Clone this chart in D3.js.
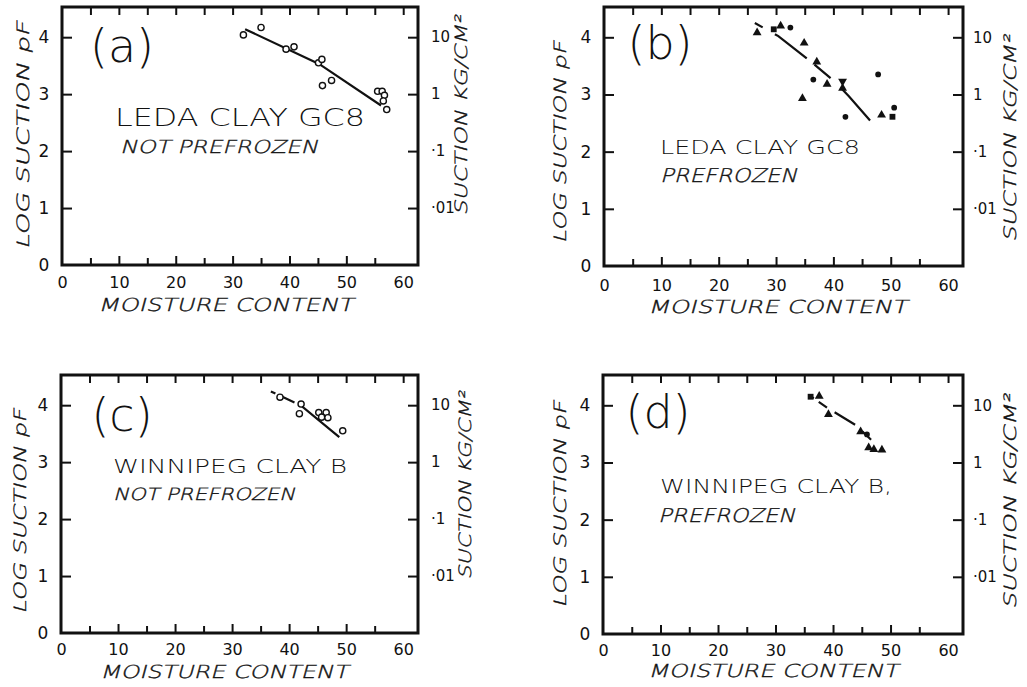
<!DOCTYPE html>
<html><head><meta charset="utf-8">
<script src="https://cdn.jsdelivr.net/npm/d3@7"></script>
<style>body{margin:0;background:#fff}svg text{fill:#111}</style>
</head><body><svg id="c" width="1027" height="687"></svg>
<script>
// ---- tick values / labels ----
const xTickValues = [0, 10, 20, 30, 40, 50, 60];
const xMinorValues = [5, 15, 25, 35, 45, 55];
const yTickValues = [0, 1, 2, 3, 4];
const rightTickValues = [4, 3, 2, 1];
const rightTickLabels = ["10", "1", "·1", "·01"];

// ---- panel (a) Leda clay GC8, not prefrozen ----
const aCircles = [[31.9,4.04],[35.0,4.17],[39.4,3.79],[40.8,3.83],[45.1,3.55],[45.7,3.61],
  [45.8,3.15],[47.4,3.24],[55.5,3.05],[56.3,3.05],[56.7,2.98],[56.5,2.88],[57.1,2.73]];
const aLine = [[32.2,4.14],[45.2,3.53],[56.1,2.80]];

// ---- panel (b) Leda clay GC8, prefrozen ----
const bCircles = [[32.5,4.17],[36.5,3.26],[47.8,3.35],[42.1,2.61],[50.6,2.77]];
const bTriangles = [[26.7,4.08],[30.8,4.20],[34.9,3.90],[37.1,3.57],[38.9,3.18],[34.6,2.93],[41.6,3.11],[48.4,2.64]];
const bSquares = [[29.6,4.14],[50.3,2.61]];
const bDownTriangles = [[41.6,3.23]];
const bLine = [[26.3,4.25],[30.4,4.02],[36.0,3.58],[40.4,3.21],[42.7,2.97],[47.2,2.45]];

// ---- panel (c) Winnipeg clay B, not prefrozen ----
const cCircles = [[38.4,4.14],[42.1,4.02],[41.8,3.85],[45.2,3.87],[46.5,3.87],[45.7,3.79],[46.8,3.78],[49.4,3.55]];
const cLine = [[36.8,4.24],[42.0,4.00],[48.8,3.44]];

// ---- panel (d) Winnipeg clay B, prefrozen ----
const dSquares = [[36.1,4.15]];
const dTriangles = [[37.6,4.16],[39.2,3.84],[44.8,3.54],[46.2,3.26],[47.1,3.23],[48.5,3.22]];
const dCircles = [[45.9,3.49]];
const dLine = [[35.8,4.18],[39.1,3.95],[44.0,3.65],[47.2,3.34]];

const FONT = "'DejaVu Sans', sans-serif";
const svg = d3.select("#c");

const panels = [
  {id:"a", L:62, R:418, T:7, B:265, letter:"(a)", lc:[122,46],
   title:"LEDA CLAY GC8", t1:[115,126,250,25], sub:"NOT PREFROZEN", t2:[120,153,198,18],
   ylab:[23,134,228], rlab:[461,114,200], rtx:13, xlabY:288, xt:[98,311,255],
   marks:[{data:aCircles,type:"ocircle"}], line:aLine, dash:null},
  {id:"b", L:604, R:963, T:7, B:266, letter:"(b)", lc:[660,43],
   title:"LEDA CLAY GC8", t1:[660,154,200,19], sub:"PREFROZEN", t2:[660,182,137,19],
   ylab:[560,141,202], rlab:[1010,137,207], rtx:10, xlabY:291, xt:[648,313,259],
   marks:[{data:bCircles,type:"circle"},{data:bTriangles,type:"tri"},{data:bSquares,type:"square"},{data:bDownTriangles,type:"dtri"}],
   line:bLine, dash:"9,14,40,10,21,16,42"},
  {id:"c", L:61, R:418, T:375, B:633, letter:"(c)", lc:[122,415],
   title:"WINNIPEG CLAY B", t1:[113,473,234,20], sub:"NOT PREFROZEN", t2:[113,500,182,17],
   ylab:[20,510,205], rlab:[465,484,188], rtx:13, xlabY:655, xt:[100,678,248],
   marks:[{data:cCircles,type:"ocircle"}], line:cLine, dash:"5,7,14,6,70"},
  {id:"d", L:603, R:963, T:375, B:634, letter:"(d)", lc:[658,412],
   title:"WINNIPEG CLAY B,", t1:[660,493,232,20], sub:"PREFROZEN", t2:[658,522,137,19],
   ylab:[560,503,207], rlab:[1010,500,215], rtx:10, xlabY:656, xt:[648,677,250],
   marks:[{data:dSquares,type:"square"},{data:dTriangles,type:"tri"},{data:dCircles,type:"circle"}],
   line:dLine, dash:"6,6,10,9,24,10,12"}
];

// hand-lettered italic: thin upright glyphs sheared
function slanted(g, transform, size, len, anchor, txt) {
  return g.append("text").attr("transform", transform + " skewX(-15)")
    .attr("text-anchor", anchor).attr("dominant-baseline", anchor === "middle" ? "central" : null)
    .attr("textLength", len).attr("lengthAdjust", "spacingAndGlyphs")
    .style("font-family", FONT).style("font-size", size + "px").style("font-weight", "200")
    .style("stroke", "#111").style("stroke-width", 0.35)
    .text(txt);
}

panels.forEach(p => {
  const g = svg.append("g");
  const x = d3.scaleLinear().domain([0, 62.6]).range([p.L, p.R]);
  const y = d3.scaleLinear().domain([0, 4.53]).range([p.B, p.T]);

  // bottom major ticks with labels
  const bx = g.append("g").attr("transform", `translate(0,${p.B})`)
    .call(d3.axisBottom(x).tickValues(xTickValues).tickSizeInner(-9).tickSizeOuter(0).tickPadding(0).tickFormat(d3.format("d")));
  bx.select(".domain").remove();
  bx.selectAll("line").attr("stroke","#111").attr("stroke-width",2);
  bx.selectAll("text").attr("y", p.xlabY - p.B).attr("dy", null).attr("fill","#111")
    .style("font-family", FONT).style("font-size","16px").style("font-weight","400");
  bx.selectAll(".tick").filter(d => d===0 || d===60).select("line").remove();

  const mx = g.append("g").attr("transform", `translate(0,${p.B})`)
    .call(d3.axisBottom(x).tickValues(xMinorValues).tickSizeInner(-7).tickSizeOuter(0).tickFormat(""));
  mx.select(".domain").remove();
  mx.selectAll("line").attr("stroke","#111").attr("stroke-width",2);

  // top ticks
  const tx = g.append("g").attr("transform", `translate(0,${p.T})`)
    .call(d3.axisTop(x).tickValues(xMinorValues.concat(xTickValues.slice(1))).tickSizeInner(-8).tickSizeOuter(0).tickFormat(""));
  tx.select(".domain").remove();
  tx.selectAll("line").attr("stroke","#111").attr("stroke-width",2);

  // left axis
  const ly = g.append("g").attr("transform", `translate(${p.L},0)`)
    .call(d3.axisLeft(y).tickValues(yTickValues).tickSizeInner(-10).tickSizeOuter(0).tickPadding(12).tickFormat(d3.format("d")));
  ly.select(".domain").remove();
  ly.selectAll("line").attr("stroke","#111").attr("stroke-width",2);
  ly.selectAll(".tick").filter(d => d===0).select("line").remove();
  ly.selectAll("text").attr("text-anchor","middle").attr("x",-18).attr("fill","#111")
    .style("font-family", FONT).style("font-size","17px").style("font-weight","400");

  // right axis
  const ry = g.append("g").attr("transform", `translate(${p.R},0)`)
    .call(d3.axisRight(y).tickValues(rightTickValues).tickSizeInner(-10).tickSizeOuter(0)
      .tickFormat((d,i) => rightTickLabels[i]));
  ry.select(".domain").remove();
  ry.selectAll("line").attr("stroke","#111").attr("stroke-width",2);
  ry.selectAll("text").attr("x", p.rtx).attr("text-anchor","start").attr("fill","#111")
    .style("font-family", FONT).style("font-size","15px").style("font-weight","400");

  // frame
  g.append("rect").attr("x",p.L).attr("y",p.T).attr("width",p.R-p.L).attr("height",p.B-p.T)
    .attr("fill","none").attr("stroke","#111").attr("stroke-width",3);

  // axis titles
  slanted(g, `translate(${p.ylab[0]},${p.ylab[1]}) rotate(-90)`, 17, p.ylab[2], "middle", "LOG  SUCTION  pF");
  slanted(g, `translate(${p.rlab[0]},${p.rlab[1]}) rotate(-90)`, 17, p.rlab[2], "middle", "SUCTION  KG/CM²");
  slanted(g, `translate(${p.xt[0]},${p.xt[1]})`, 18, p.xt[2], "start", "MOISTURE   CONTENT");

  // panel letter
  g.append("text").attr("x",p.lc[0]).attr("y",p.lc[1]).attr("text-anchor","middle").attr("dominant-baseline","central")
    .style("font-family",FONT).style("font-size","46px").style("font-weight","200")
    .text(p.letter);

  // annotations
  g.append("text").attr("x",p.t1[0]).attr("y",p.t1[1]).attr("textLength",p.t1[2]).attr("lengthAdjust","spacingAndGlyphs")
    .style("font-family",FONT).style("font-size",p.t1[3]+"px").style("font-weight","200").text(p.title);
  slanted(g, `translate(${p.t2[0]},${p.t2[1]})`, p.t2[3], p.t2[2], "start", p.sub);

  // fitted line
  const line = d3.line().x(d => x(d[0])).y(d => y(d[1]));
  const lp = g.append("path").datum(p.line).attr("d", line).attr("fill","none")
    .attr("stroke","#111").attr("stroke-width",2.2);
  if (p.dash) lp.attr("stroke-dasharray", p.dash);

  // markers
  p.marks.forEach(m => {
    const sel = g.append("g").selectAll("path").data(m.data).join("path")
      .attr("transform", d => `translate(${x(d[0])},${y(d[1])})`);
    if (m.type === "ocircle") {
      sel.attr("d", d3.symbol(d3.symbolCircle, 30)()).attr("fill","#fff").attr("stroke","#111").attr("stroke-width",1.4);
    } else if (m.type === "circle") {
      sel.attr("d", d3.symbol(d3.symbolCircle, 26)()).attr("fill","#111");
    } else if (m.type === "tri") {
      sel.attr("d", d3.symbol(d3.symbolTriangle, 34)()).attr("fill","#111");
    } else if (m.type === "dtri") {
      sel.attr("d", d3.symbol(d3.symbolTriangle, 34)()).attr("fill","#111")
        .attr("transform", d => `translate(${x(d[0])},${y(d[1])}) rotate(180)`);
    } else if (m.type === "square") {
      sel.attr("d", d3.symbol(d3.symbolSquare, 34)()).attr("fill","#111");
    }
  });
});
</script></body></html>
